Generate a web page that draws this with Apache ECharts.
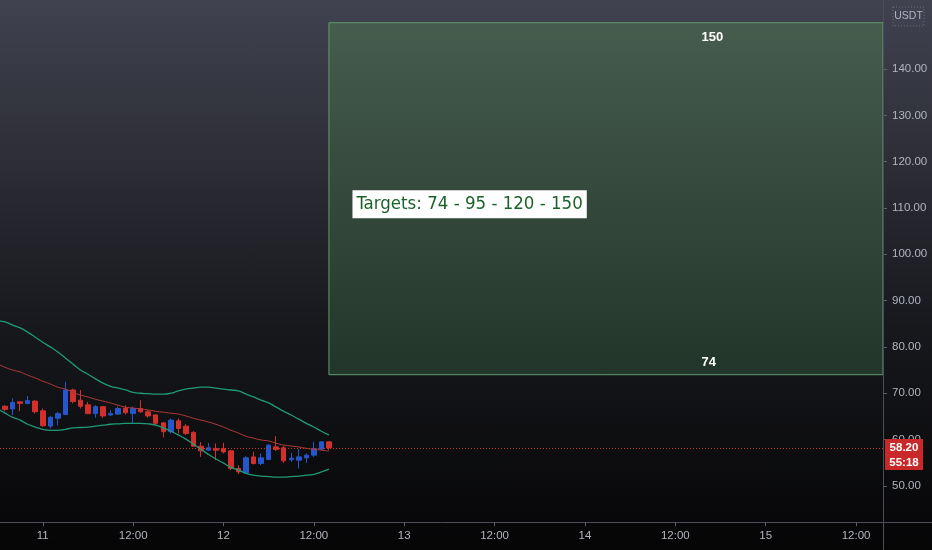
<!DOCTYPE html>
<html><head><meta charset="utf-8">
<script src="https://cdn.jsdelivr.net/npm/echarts@6/dist/echarts.min.js"></script>
<style>
html,body{margin:0;padding:0;width:932px;height:550px;overflow:hidden;
background:linear-gradient(to bottom,#404250 0%,#2c2d35 30%,#17181c 60%,#050506 100%);}
#c{width:932px;height:550px;}
</style></head><body><div id="c"></div>
<script>
// hours relative to day 11, 00:00
const hours = [-6,-5,-4,-3,-2,-1,0,1,2,3,4,5,6,7,8,9,10,11,12,13,14,15,16,17,18,19,20,21,22,23,24,25,26,27,28,29,30,31,32,33,34,35,36,37,38];
const opens  = [69.6,67.2,66.6,68.15,67.8,68.3,66.2,62.9,64.6,65.4,70.7,68.5,67.5,65.6,67.1,65.3,65.5,66.8,65.6,66.7,66.0,65.3,63.6,61.7,64.04,62.89,61.53,58.57,57.71,58.08,58.08,57.56,53.76,52.81,56.26,54.84,55.70,58.42,58.21,55.66,55.55,56.05,56.63,57.93,59.50];
const closes = [67.0,66.5,68.0,67.8,68.4,66.0,63.0,64.8,65.6,70.7,68.2,67.2,65.6,67.1,65.1,65.6,66.7,65.8,66.7,66.0,65.1,63.5,61.7,64.2,62.40,61.32,58.57,57.56,58.21,57.71,57.34,53.76,53.02,56.05,54.84,56.05,58.79,57.86,55.40,55.98,56.26,56.63,58.08,59.50,58.20];
const lows   = [66.3,66.1,65.3,66.1,67.6,65.6,62.75,62.4,63.1,65.3,67.8,66.7,65.5,64.7,64.7,65.1,65.3,65.4,63.5,65.8,64.7,63.1,60.45,61.3,61.32,60.95,58.42,56.26,57.56,55.55,57.0,53.39,52.53,52.68,54.62,54.47,55.55,57.56,54.97,55.18,53.76,54.97,56.26,57.71,57.71];
const highs  = [70.7,67.4,68.9,68.2,69.4,68.5,66.7,65.1,66.0,72.5,71.0,70.7,68.1,67.4,67.2,66.35,67.1,67.4,67.1,68.5,66.35,65.5,63.8,64.55,64.56,63.33,61.81,59.50,59.29,59.16,59.29,57.71,54.47,56.41,57.34,57.0,59.0,60.73,58.57,57.13,57.93,57.0,59.50,59.65,59.65];
const bbUpper = [85.6,85.4,84.7,84.1,83.2,82.1,81.0,80.0,78.9,77.6,76.3,75.0,74.1,73.1,72.2,71.5,71.1,70.7,70.2,70.0,69.9,69.8,69.8,70.0,70.5,70.9,71.1,71.3,71.3,71.1,70.9,70.7,70.5,69.8,69.2,68.5,67.9,67.0,66.1,65.3,64.4,63.5,62.7,61.8,61.0];
const bbBasis = [76.3,75.6,75.0,74.6,73.9,73.3,72.6,72.0,71.3,70.9,70.2,69.6,69.2,68.7,68.3,67.9,67.4,67.0,66.8,66.6,66.4,66.1,65.9,65.7,65.5,65.1,64.6,64.2,63.8,63.3,62.7,62.0,61.4,60.7,60.3,59.9,59.7,59.2,58.8,58.6,58.4,58.1,57.9,57.7,57.5];
const bbLower = [66.6,65.7,64.8,64.2,63.3,62.7,62.2,62.0,62.0,62.2,62.5,62.6,62.7,62.9,63.1,63.3,63.4,63.5,63.5,63.5,63.4,63.1,62.5,61.8,61.0,60.1,59.0,57.9,56.8,55.8,54.9,54.0,53.4,52.7,52.3,52.1,52.0,51.9,51.9,52.0,52.1,52.3,52.5,53.0,53.6];
const xTickHours = [0,12,24,36,48,60,72,84,96,108];
const xTickLabels = ['11','12:00','12','12:00','13','12:00','14','12:00','15','12:00'];
const yTickValues = [50,60,70,80,90,100,110,120,130,140];
const targets = [74,95,120,150];
const boxStartHour = 38;
const lastPrice = 58.20;
const countdown = '55:18';
const currency = 'USDT';

const AXF = "'Liberation Sans',Arial,sans-serif";
const chart = echarts.init(document.getElementById('c'), null, {renderer:'canvas'});
const pair = (arr) => hours.map((h,i)=>[h, arr[i]]);
const candleData = hours.map((h,i)=>[h, opens[i], closes[i], lows[i], highs[i]]);
const bbDiff = hours.map((h,i)=>[h, bbUpper[i]-bbLower[i]]);
const tMin = targets[0], tMax = targets[targets.length-1];
const X_MIN = -5.68, X_MAX = 111.58;

const option = {
  animation:false,
  backgroundColor:'transparent',
  grid:{left:0,right:49,top:0,bottom:28,containLabel:false},
  xAxis:{type:'value',min:X_MIN,max:X_MAX,
    axisLine:{show:true,onZero:false,lineStyle:{color:'#4c4f5a',width:1}},
    axisTick:{show:true,customValues:xTickHours,length:4,lineStyle:{color:'#5d606b'}},
    axisLabel:{show:true,customValues:xTickHours,margin:8,color:'#b2b5be',fontSize:11.5,fontFamily:AXF,
      formatter:(v)=>{const i=xTickHours.indexOf(v);return i>=0?xTickLabels[i]:'';}},
    splitLine:{show:false}},
  yAxis:{type:'value',position:'right',min:42.2,max:154.9,
    axisLine:{show:true,onZero:false,lineStyle:{color:'#4c4f5a',width:1}},
    axisTick:{show:true,customValues:yTickValues,length:4,lineStyle:{color:'#5d606b'}},
    axisLabel:{show:true,customValues:yTickValues,margin:9,color:'#b2b5be',fontSize:11.5,fontFamily:AXF,
      formatter:(v)=>v.toFixed(2)},
    splitLine:{show:false}},
  series:[
    {type:'line',data:pair(bbLower),stack:'bb',smooth:true,symbol:'none',silent:true,lineStyle:{opacity:0}},
    {type:'line',data:bbDiff,stack:'bb',smooth:true,symbol:'none',silent:true,lineStyle:{opacity:0},
      areaStyle:{color:'rgba(34,171,148,0.05)'}},
    {type:'line',data:pair(bbUpper),smooth:true,symbol:'none',silent:true,lineStyle:{color:'#1f9a76',width:1.3}},
    {type:'line',data:pair(bbLower),smooth:true,symbol:'none',silent:true,lineStyle:{color:'#1f9a76',width:1.3}},
    {type:'line',data:pair(bbBasis),smooth:true,symbol:'none',silent:true,lineStyle:{color:'#b03c3a',width:1}},
    {type:'candlestick',data:candleData,encode:{x:0,y:[1,2,3,4]},barWidth:5,
      itemStyle:{color:'#2556cc',color0:'#d1302d',borderColor:'#2556cc',borderColor0:'#d1302d',borderWidth:1},
      markLine:{silent:true,symbol:['none','none'],label:{show:false},
        lineStyle:{color:'#c8302c',type:[1,2],width:1},data:[{yAxis:lastPrice}]},
      markArea:{silent:true,
        itemStyle:{borderColor:'#5e9c6c',borderWidth:1,
          color:{type:'linear',x:0,y:0,x2:0,y2:1,colorStops:[{offset:0,color:'#465c4d'},{offset:1,color:'#22352a'}]}},
        data:[[{coord:[boxStartHour,tMax]},{coord:[X_MAX,tMin]}]]},
      markPoint:{silent:true,symbol:'rect',symbolSize:1,itemStyle:{color:'rgba(0,0,0,0)'},
        data:[
          {coord:[87.4,146.9],label:{show:true,position:'right',distance:0,formatter:String(tMax),color:'#ffffff',fontWeight:'bold',fontSize:13,fontFamily:AXF}},
          {coord:[87.4,76.7],label:{show:true,position:'right',distance:0,formatter:String(tMin),color:'#ffffff',fontWeight:'bold',fontSize:13,fontFamily:AXF}},
          {coord:[41.06,110.8],label:{show:true,position:'right',distance:0,formatter:'Targets: '+targets.join(' - '),
            color:'#1d622b',backgroundColor:'#ffffff',padding:[4,4,4,4],fontSize:18.5,lineHeight:20,fontFamily:"'DejaVu Sans Condensed',sans-serif"}}
        ]}}
  ]
};
chart.setOption(option);

const py = chart.convertToPixel({yAxisIndex:0}, lastPrice);
chart.setOption({graphic:[
  {type:'line',z:50,shape:{x1:883.5,y1:0,x2:883.5,y2:550},style:{stroke:'#4c4f5a',lineWidth:1}},
  {type:'line',z:50,shape:{x1:883,y1:522.5,x2:932,y2:522.5},style:{stroke:'#4c4f5a',lineWidth:1}},
  {type:'rect',z:60,shape:{x:893,y:7,width:31,height:19},style:{fill:'#3f4150',stroke:'rgba(140,143,154,0.55)',lineWidth:1,lineDash:[1,2]}},
  {type:'text',z:61,x:908.5,y:16.5,style:{text:currency,fill:'#b2b5be',fontSize:10.5,fontFamily:AXF,align:'center',verticalAlign:'middle'}},
  {type:'rect',z:60,shape:{x:885,y:py-9,width:38,height:31},style:{fill:'#c9282b'}},
  {type:'text',z:61,x:904,y:py,style:{text:lastPrice.toFixed(2),fill:'#ffffff',fontSize:11.5,fontWeight:'bold',fontFamily:AXF,align:'center',verticalAlign:'middle'}},
  {type:'text',z:61,x:904,y:py+15,style:{text:countdown,fill:'#ffffff',fontSize:11.5,fontWeight:'bold',fontFamily:AXF,align:'center',verticalAlign:'middle'}}
]});
</script></body></html>
